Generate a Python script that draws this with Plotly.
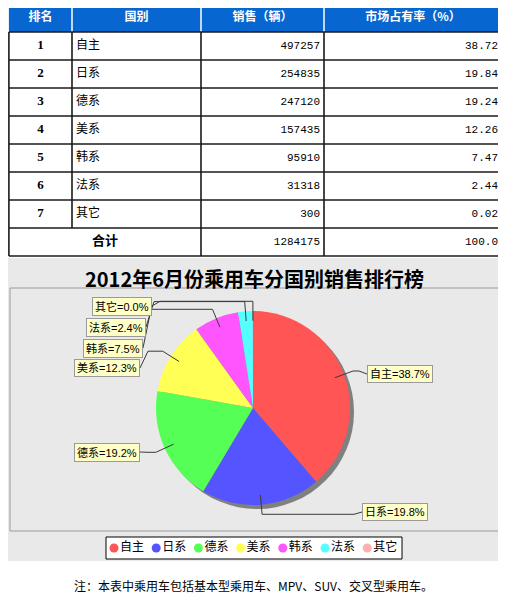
import math
import plotly.graph_objects as go

# table / chart data
ranks = ['1', '2', '3', '4', '5', '6', '7']
countries = ['自主', '日系', '德系', '美系', '韩系', '法系', '其它']
sales = [497257, 254835, 247120, 157435, 95910, 31318, 300]
shares = ['38.72', '19.84', '19.24', '12.26', '7.47', '2.44', '0.02']
total_label = '合计'
total_sales = '1284175'
total_share = '100.0'
headers = ['排名', '国别', '销售（辆）', '市场占有率（%）']
slice_colors = ['#FF5555', '#5555FF', '#55FF55', '#FFFF55', '#FF55FF', '#55FFFF', '#FFAFAF']
title = '2012年6月份乘用车分国别销售排行榜'
note = '注：本表中乘用车包括基本型乘用车、MPV、SUV、交叉型乘用车。'

# the page body has an 8px margin, so the figure is shifted by it
OFF = 8
PW, PH = 506, 595
W, H = PW - OFF, PH - OFF
CJK = 'Noto Sans CJK SC'
col_x = [8.9, 72, 201, 324, 502]
head_top, row_h = 4, 28

fig = go.Figure()
shapes = []
annotations = []

# ---------------- table ----------------
n = len(countries)
table_bottom = head_top + row_h * (n + 2)
shapes.append(dict(type='rect', x0=col_x[0], x1=col_x[-1], y0=head_top, y1=head_top + row_h,
                   fillcolor='#0866D0', line=dict(width=0), layer='below'))
for xv in col_x[1:-1]:
    shapes.append(dict(type='line', x0=xv, x1=xv, y0=head_top, y1=head_top + row_h,
                       line=dict(color='white', width=1.5), layer='below'))
for i in range(n + 2):
    yv = head_top + row_h * (i + 1)
    shapes.append(dict(type='line', x0=col_x[0], x1=col_x[-1], y0=yv, y1=yv,
                       line=dict(color='#1a1a1a', width=1.6), layer='below'))
for j, xv in enumerate(col_x):
    y_end = table_bottom if j != 1 else table_bottom - row_h
    shapes.append(dict(type='line', x0=xv, x1=xv, y0=head_top + row_h, y1=y_end,
                       line=dict(color='#1a1a1a', width=1.6), layer='below'))

row_y = [head_top + row_h * (i + 1.5) for i in range(n)]
tot_y = head_top + row_h * (n + 1.5)
head_cx = [(col_x[k] + col_x[k + 1]) / 2 for k in range(4)]


def text_trace(x, y, text, pos, size=12, color='black', family=CJK, weight='normal'):
    return go.Scatter(x=x, y=y, text=text, mode='text', textposition=pos,
                      textfont=dict(size=size, color=color, family=family, weight=weight),
                      hoverinfo='skip', showlegend=False, cliponaxis=False)


fig.add_trace(text_trace(head_cx, [head_top + row_h / 2] * 4, headers, 'middle center',
                         size=12, color='white', weight='bold'))
fig.add_trace(text_trace([head_cx[0]] * n, row_y, ranks, 'middle center',
                         size=13, family='Liberation Serif', weight='bold'))
fig.add_trace(text_trace([col_x[1] + 4] * n, row_y, countries, 'middle right', size=12))
fig.add_trace(text_trace([col_x[3] - 4] * (n + 1), row_y + [tot_y],
                         [str(v) for v in sales] + [total_sales], 'middle left',
                         size=11, family='Liberation Mono'))
fig.add_trace(text_trace([col_x[4] - 4] * (n + 1), row_y + [tot_y],
                         shares + [total_share], 'middle left',
                         size=11, family='Liberation Mono'))
fig.add_trace(text_trace([(col_x[0] + col_x[2]) / 2], [tot_y], [total_label], 'middle center',
                         size=13, weight='bold'))

# ---------------- chart panel ----------------
shapes.append(dict(type='rect', x0=4, x1=504, y0=258, y1=561,
                   fillcolor='#E9E9E9', line=dict(width=0), layer='below'))
shapes.append(dict(type='rect', x0=10, x1=500, y0=288, y1=531,
                   fillcolor='#E9E9E9', line=dict(color='#9A9A9A', width=1), layer='below'))
annotations.append(dict(x=254, y=278, xref='x', yref='y', text=title, showarrow=False,
                        font=dict(size=20, family=CJK, color='black', weight='bold')))


def pie_domain(px, py, r):
    return dict(x=[(px - r - OFF) / W, (px + r - OFF) / W],
                y=[(PH - py - r) / H, (PH - py + r) / H])


# pie + shadow
cx, cy, R = 253, 408, 97
sh = 4
fig.add_trace(go.Pie(values=[sum(sales)], marker=dict(colors=['#808080']), textinfo='none',
                     hoverinfo='skip', showlegend=False, sort=False,
                     domain=pie_domain(cx + sh, cy + sh, R)))
fig.add_trace(go.Pie(values=sales, labels=countries, marker=dict(colors=slice_colors, line=dict(width=0)),
                     textinfo='none', sort=False, direction='clockwise', showlegend=False,
                     domain=pie_domain(cx, cy, R)))

# slice labels with leader lines
total = sum(sales)
label_pos = {  # (edge x, y, side)
    '自主': (367, 374, 'left'), '日系': (362, 512, 'left'), '德系': (140, 452, 'right'),
    '美系': (140, 368, 'right'), '韩系': (143, 348, 'right'), '法系': (146, 327, 'right'),
    '其它': (152, 306, 'right'),
}
cum = 0
for name, v in zip(countries, sales):
    ang = math.radians(90 - 360 * (cum + v / 2) / total)
    cum += v
    lx, ly, anchor = label_pos[name]
    ax_, ay_ = cx + 0.9 * R * math.cos(ang), cy - 0.9 * R * math.sin(ang)
    ex, ey = cx + 1.1 * R * math.cos(ang), cy - 1.1 * R * math.sin(ang)
    hx = lx + 8 if anchor == 'right' else lx - 8
    path = f'M {ax_:.1f},{ay_:.1f} L {ex:.1f},{ey:.1f} L {hx:.1f},{ey:.1f} L {lx},{ly}'
    shapes.append(dict(type='path', path=path, line=dict(color='#3a3a3a', width=1), layer='above'))
    annotations.append(dict(x=lx, y=ly, xref='x', yref='y', xanchor=anchor, showarrow=False,
                            text=f'{name}={100 * v / total:.1f}%', bgcolor='#FFFFC8',
                            bordercolor='#9A9A9A', borderwidth=1, borderpad=2,
                            font=dict(size=11, family='Liberation Sans, ' + CJK, color='black')))

# legend
shapes.append(dict(type='rect', x0=106, x1=402, y0=537, y1=559,
                   fillcolor='white', line=dict(color='black', width=1), layer='below'))
leg_x = [114 + 42.2 * i for i in range(n)]
fig.add_trace(go.Scatter(x=leg_x, y=[548] * n, mode='markers',
                         marker=dict(size=9, color=slice_colors, symbol='circle'),
                         hoverinfo='skip', showlegend=False, cliponaxis=False))
fig.add_trace(text_trace([x + 6 for x in leg_x], [548] * n, countries, 'middle right', size=12))

annotations.append(dict(x=253, y=585, xref='x', yref='y', text=note, showarrow=False,
                        font=dict(size=12, family=CJK, color='black')))

fig.update_layout(
    width=W, height=H, margin=dict(l=0, r=0, t=0, b=0),
    paper_bgcolor='white', plot_bgcolor='white',
    xaxis=dict(range=[OFF, PW], visible=False, fixedrange=True),
    yaxis=dict(range=[PH, OFF], visible=False, fixedrange=True),
    shapes=shapes, annotations=annotations, showlegend=False,
)

fig.write_html("out.html")
